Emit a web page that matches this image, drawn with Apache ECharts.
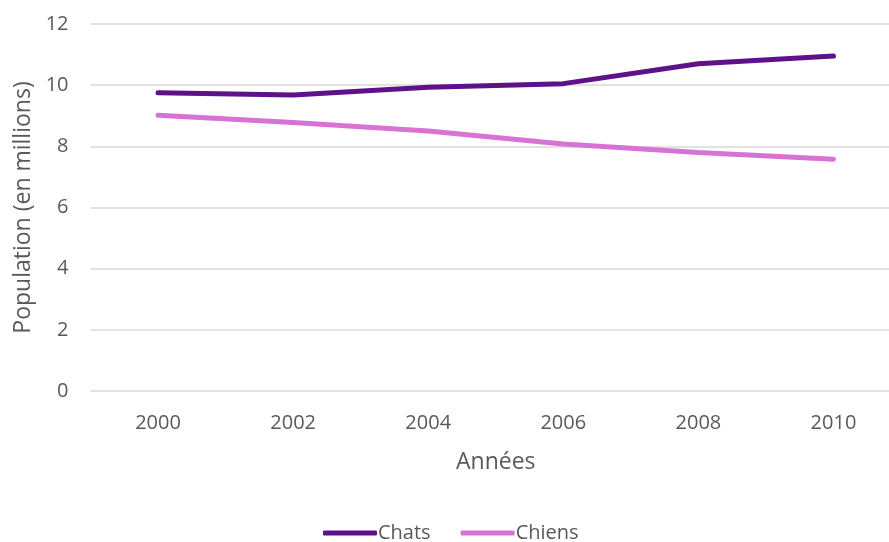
<!DOCTYPE html>
<html><head><meta charset="utf-8">
<script src="https://cdn.jsdelivr.net/npm/echarts@6/dist/echarts.min.js"></script>
<style>html,body{margin:0;padding:0;background:#fff;overflow:hidden;width:889px;height:542px}#c{width:901px;height:542px}</style>
</head><body><div id="c"></div>
<script>
const years = ['2000','2002','2004','2006','2008','2010'];
const chats = [9.75, 9.68, 9.93, 10.05, 10.7, 10.95];
const chiens = [9.02, 8.78, 8.5, 8.08, 7.8, 7.58];
const yTicks = [0, 2, 4, 6, 8, 10, 12];

const txt = '#595959';
const font = 'Open Sans';
const chart = echarts.init(document.getElementById('c'));
chart.setOption({
  animation: false,
  textStyle: {fontFamily: font},
  grid: {left: 90.5, top: 24, right: 0, bottom: 151, containLabel: false},
  legend: {
    top: 518, left: 318, itemGap: 30, itemWidth: 54, itemHeight: 5,
    icon: 'roundRect',
    textStyle: {color: txt, fontSize: 20, fontFamily: font, padding: [0,0,0,-4]},
    data: ['Chats', 'Chiens']
  },
  xAxis: {
    type: 'category', data: years, boundaryGap: true,
    axisLine: {show: false}, axisTick: {show: false},
    axisLabel: {color: txt, fontSize: 20, margin: 22, fontFamily: font},
    name: 'Années', nameLocation: 'middle', nameGap: 60,
    nameTextStyle: {color: txt, fontSize: 23, fontFamily: font}
  },
  yAxis: {
    type: 'value', min: yTicks[0], max: yTicks[yTicks.length-1], interval: 2,
    axisLine: {show: false}, axisTick: {show: false},
    splitLine: {lineStyle: {color: '#d9d9d9', width: 1.5}},
    axisLabel: {color: txt, fontSize: 20, margin: 22, fontFamily: font},
    name: 'Population (en millions)', nameLocation: 'middle', nameGap: 56,
    nameTextStyle: {color: txt, fontSize: 23, fontFamily: font}
  },
  series: [
    {name: 'Chats', type: 'line', data: chats, showSymbol: false,
     lineStyle: {color: '#5e1189', width: 5, cap: 'round'}, itemStyle: {color: '#5e1189'}},
    {name: 'Chiens', type: 'line', data: chiens, showSymbol: false,
     lineStyle: {color: '#d873d4', width: 5, cap: 'round'}, itemStyle: {color: '#d873d4'}}
  ]
});
</script></body></html>
